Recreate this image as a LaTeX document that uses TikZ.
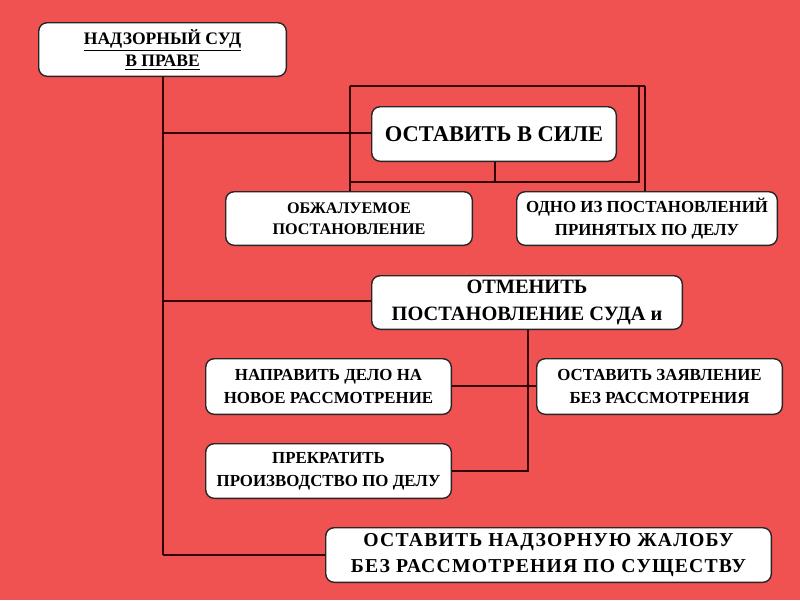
\documentclass[tikz,border=0pt]{standalone}
\usepackage{fontspec}
\setmainfont{Liberation Serif}
\begin{document}
\begin{tikzpicture}[x=0.025cm,y=-0.025cm,
 bx/.style={draw=black!85,line width=1pt,fill=white,rounded corners=6pt,align=center,inner sep=0pt,font=\bfseries,text=black!85},
 ln/.style={line width=1.3pt,draw=black!80!red}]
\fill[red!70!white!95!black,fill={rgb,255:red,240;green,82;blue,82}] (0,0) rectangle (800,600);
\useasboundingbox (0,0) rectangle (800,600);
\newcommand{\bxat}[6]{\node[bx,minimum width=#3*0.025cm-1pt,minimum height=#4*0.025cm-1pt,font=\bfseries#6] (#5) at (#1,#2) {};}
\bxat{162.5}{49.5}{249}{55}{top}{\fontsize{12}{15}\selectfont}
\node[font=\bfseries\fontsize{12.5}{16}\selectfont,align=center] at (top) {\underline{НАДЗОРНЫЙ СУД}\\\underline{В ПРАВЕ}};
% lines
\draw[ln] (350,86) -- (645,86);
\draw[ln] (350,86) -- (350,191);
\draw[ln] (639,86) -- (639,182) -- (350,182);
\draw[ln] (645,86) -- (645,191);
\draw[ln] (495,162) -- (495,182);
\draw[ln] (163,77) -- (163,555);
\draw[ln] (163,133) -- (371,133);
\draw[ln] (163,301) -- (371,301);
\draw[ln] (163,555) -- (325,555);
\draw[ln] (528,330) -- (528,471) -- (452,471);
\draw[ln] (452,386) -- (536,386);
\bxat{494}{134}{246}{56}{sila}{}
\node[font=\bfseries\fontsize{16}{19}\selectfont] at (sila) {ОСТАВИТЬ В СИЛЕ};
\bxat{349}{218.5}{248}{55}{obzh}{}
\node[font=\bfseries\fontsize{11.5}{15}\selectfont,align=center] at (obzh) {ОБЖАЛУЕМОЕ\\ПОСТАНОВЛЕНИЕ};
\bxat{647}{218.5}{262}{55}{odno}{}
\node[font=\bfseries\fontsize{12}{16}\selectfont,align=center] at (odno) {ОДНО ИЗ ПОСТАНОВЛЕНИЙ\\ПРИНЯТЫХ ПО ДЕЛУ};
\bxat{527}{302.5}{312}{55}{otm}{}
\node[font=\bfseries\fontsize{14.5}{19}\selectfont,align=center] at (otm) {ОТМЕНИТЬ\\ПОСТАНОВЛЕНИЕ СУДА и};
\bxat{328.5}{386.5}{247}{57}{napr}{}
\node[font=\bfseries\fontsize{12}{16}\selectfont,align=center] at (napr) {НАПРАВИТЬ ДЕЛО НА\\НОВОЕ РАССМОТРЕНИЕ};
\bxat{659.5}{386.5}{247}{57}{zayav}{}
\node[font=\bfseries\fontsize{12}{16}\selectfont,align=center] at (zayav) {ОСТАВИТЬ ЗАЯВЛЕНИЕ\\БЕЗ РАССМОТРЕНИЯ};
\bxat{328.5}{471}{247}{56}{prekr}{}
\node[font=\bfseries\fontsize{12}{16}\selectfont,align=center] at (prekr) {ПРЕКРАТИТЬ\\ПРОИЗВОДСТВО ПО ДЕЛУ};
\bxat{548.5}{555}{447}{56}{nadz}{}
\node[font=\bfseries\fontsize{14}{19}\selectfont,align=center] at (nadz) {\addfontfeature{LetterSpace=6}ОСТАВИТЬ НАДЗОРНУЮ ЖАЛОБУ\\\addfontfeature{LetterSpace=6}БЕЗ РАССМОТРЕНИЯ ПО СУЩЕСТВУ};
\end{tikzpicture}
\end{document}
